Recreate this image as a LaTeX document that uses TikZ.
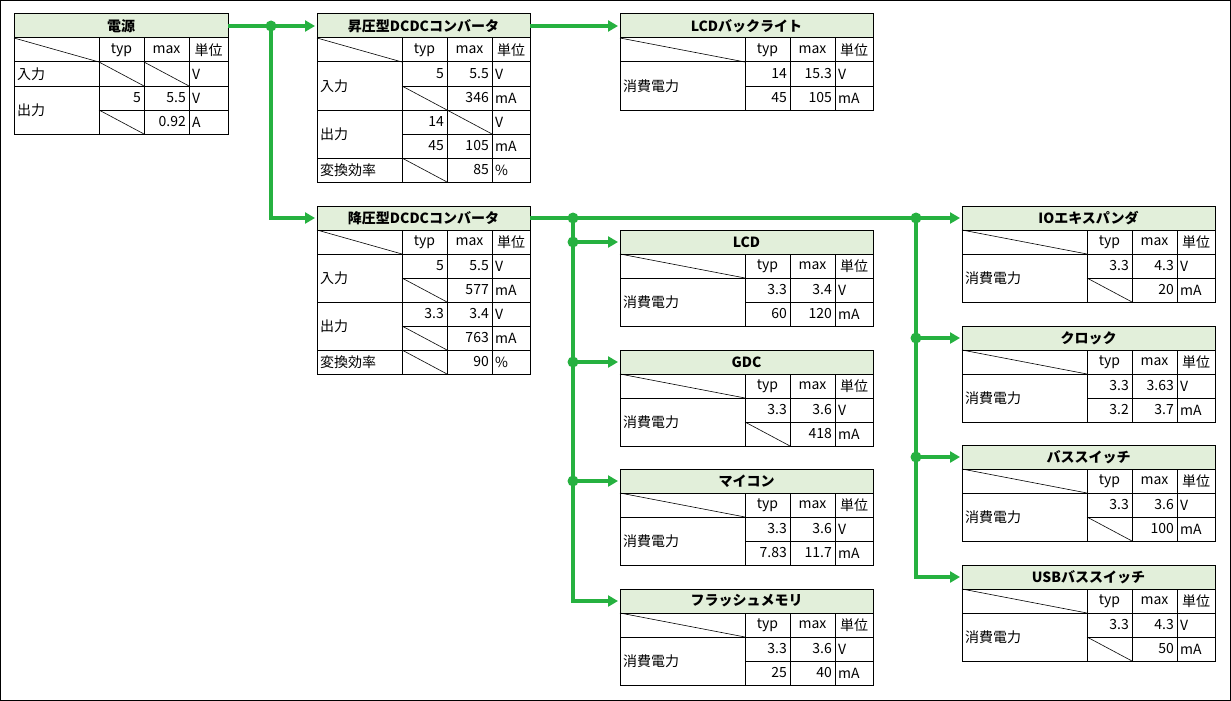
\documentclass[tikz,border=0pt]{standalone}
\usepackage{fontspec}
\setmainfont{Noto Sans CJK JP}
\usetikzlibrary{arrows.meta}

\definecolor{headgreen}{RGB}{226,239,218}
\definecolor{wiregreen}{RGB}{38,177,64}

\newcommand{\cellfont}{\fontsize{14}{16}\selectfont}

% load table: name, x, y, title, typ V, max V, typ mA, max mA
\newcommand{\loadtable}[8]{%
\node[tabtitle, minimum width=253pt] (#1) at (#2,#3) {#4};
\begin{scope}[shift={(#1.south west)}]
\draw[rule] (0,0) rectangle (253,72);
\draw[rule] (0,24) -- (253,24) (125,48) -- (253,48);
\draw[rule] (125,0) -- (125,72) (170,0) -- (170,72) (215,0) -- (215,72);
\draw[diag] (0,0) -- (125,24);
\node[hdr] (#1-typ) at (147.5,12) {typ};
\node[hdr] (#1-max) at (192.5,12) {max};
\node[hdr] (#1-unit) at (234,12) {単位};
\node[lbl] (#1-item) at (0,48) {消費電力};
\node[num] (#1-tv) at (170,36) {#5};
\node[num] (#1-mv) at (215,36) {#6};
\node[unitcell] (#1-uv) at (215,36) {V};
\node[num] (#1-ta) at (170,60) {#7};
\node[num] (#1-ma) at (215,60) {#8};
\node[unitcell] (#1-ua) at (215,60) {mA};
\if\relax\detokenize{#7}\relax \draw[diag] (125,48) -- (170,72); \fi
\end{scope}
}

\begin{document}
\begin{tikzpicture}[
x=1pt, y=-1pt,
tabtitle/.style={draw, fill=headgreen, line width=1pt, anchor=north west,
minimum height=24pt, inner sep=0pt, outer sep=0pt, font=\cellfont\bfseries},
rule/.style={line width=1pt},
diag/.style={line width=0.6pt},
hdr/.style={anchor=center, inner sep=0pt, font=\cellfont},
lbl/.style={anchor=west, inner sep=3pt, font=\cellfont},
num/.style={anchor=east, inner sep=3pt, font=\cellfont},
unitcell/.style={anchor=west, inner sep=3pt, font=\cellfont},
wire/.style={draw=wiregreen, line width=3.5pt},
arrow/.style={wire, -{Triangle[length=10pt, width=11pt]}, shorten >=2pt},
dot/.style={circle, fill=wiregreen, inner sep=0pt, minimum size=11pt}
]

\useasboundingbox (0,0) rectangle (1231,701);
\draw[line width=1pt] (0.5,0.5) rectangle (1230.5,700.5);

% =====================================================
% Power supply
% =====================================================

\node[tabtitle, minimum width=214pt] (psu) at (14,14) {電源};
\begin{scope}[shift={(psu.south west)}]
\draw[rule] (0,0) rectangle (214,96);
\draw[rule] (0,24) -- (214,24) (0,48) -- (214,48) (85,72) -- (214,72);
\draw[rule] (85,0) -- (85,96) (130,0) -- (130,96) (175,0) -- (175,96);
\draw[diag] (0,0) -- (85,24) (85,24) -- (130,48) (130,24) -- (175,48) (85,72) -- (130,96);
\node[hdr] (psu-typ) at (107.5,12) {typ};
\node[hdr] (psu-max) at (152.5,12) {max};
\node[hdr] (psu-unit) at (194.5,12) {単位};
\node[lbl] (psu-in) at (0,36) {入力};
\node[unitcell] (psu-in-u) at (175,36) {V};
\node[lbl] (psu-out) at (0,72) {出力};
\node[num] (psu-out-tv) at (130,60) {5};
\node[num] (psu-out-mv) at (175,60) {5.5};
\node[unitcell] (psu-out-uv) at (175,60) {V};
\node[num] (psu-out-ma) at (175,84) {0.92};
\node[unitcell] (psu-out-ua) at (175,84) {A};
\end{scope}

% =====================================================
% Boost converter
% =====================================================

\node[tabtitle, minimum width=213pt] (boost) at (317,14) {昇圧型DCDCコンバータ};
\begin{scope}[shift={(boost.south west)}]
\draw[rule] (0,0) rectangle (213,144);
\draw[rule] (0,24) -- (213,24) (85,48) -- (213,48) (0,72) -- (213,72)
  (85,96) -- (213,96) (0,120) -- (213,120);
\draw[rule] (85,0) -- (85,144) (130,0) -- (130,144) (175,0) -- (175,144);
\draw[diag] (0,0) -- (85,24) (85,48) -- (130,72) (130,72) -- (175,96) (85,120) -- (130,144);
\node[hdr] (boost-typ) at (107.5,12) {typ};
\node[hdr] (boost-max) at (152.5,12) {max};
\node[hdr] (boost-unit) at (194,12) {単位};
\node[lbl] (boost-in) at (0,48) {入力};
\node[num] (boost-in-tv) at (130,36) {5};
\node[num] (boost-in-mv) at (175,36) {5.5};
\node[unitcell] (boost-in-uv) at (175,36) {V};
\node[num] (boost-in-ma) at (175,60) {346};
\node[unitcell] (boost-in-ua) at (175,60) {mA};
\node[lbl] (boost-out) at (0,96) {出力};
\node[num] (boost-out-tv) at (130,84) {14};
\node[unitcell] (boost-out-uv) at (175,84) {V};
\node[num] (boost-out-ta) at (130,108) {45};
\node[num] (boost-out-ma) at (175,108) {105};
\node[unitcell] (boost-out-ua) at (175,108) {mA};
\node[lbl] (boost-eff) at (0,132) {変換効率};
\node[num] (boost-eff-m) at (175,132) {85};
\node[unitcell] (boost-eff-u) at (175,132) {\%};
\end{scope}

% =====================================================
% Buck converter
% =====================================================

\node[tabtitle, minimum width=213pt] (buck) at (317,206) {降圧型DCDCコンバータ};
\begin{scope}[shift={(buck.south west)}]
\draw[rule] (0,0) rectangle (213,144);
\draw[rule] (0,24) -- (213,24) (85,48) -- (213,48) (0,72) -- (213,72)
  (85,96) -- (213,96) (0,120) -- (213,120);
\draw[rule] (85,0) -- (85,144) (130,0) -- (130,144) (175,0) -- (175,144);
\draw[diag] (0,0) -- (85,24) (85,48) -- (130,72) (85,96) -- (130,120) (85,120) -- (130,144);
\node[hdr] (buck-typ) at (107.5,12) {typ};
\node[hdr] (buck-max) at (152.5,12) {max};
\node[hdr] (buck-unit) at (194,12) {単位};
\node[lbl] (buck-in) at (0,48) {入力};
\node[num] (buck-in-tv) at (130,36) {5};
\node[num] (buck-in-mv) at (175,36) {5.5};
\node[unitcell] (buck-in-uv) at (175,36) {V};
\node[num] (buck-in-ma) at (175,60) {577};
\node[unitcell] (buck-in-ua) at (175,60) {mA};
\node[lbl] (buck-out) at (0,96) {出力};
\node[num] (buck-out-tv) at (130,84) {3.3};
\node[num] (buck-out-mv) at (175,84) {3.4};
\node[unitcell] (buck-out-uv) at (175,84) {V};
\node[num] (buck-out-ma) at (175,108) {763};
\node[unitcell] (buck-out-ua) at (175,108) {mA};
\node[lbl] (buck-eff) at (0,132) {変換効率};
\node[num] (buck-eff-m) at (175,132) {90};
\node[unitcell] (buck-eff-u) at (175,132) {\%};
\end{scope}

% =====================================================
% Loads
% =====================================================

\loadtable{backlight}{620}{14}{LCDバックライト}{14}{15.3}{45}{105}
\loadtable{lcd}{620}{230}{LCD}{3.3}{3.4}{60}{120}
\loadtable{gdc}{620}{350}{GDC}{3.3}{3.6}{}{418}
\loadtable{mcu}{620}{469}{マイコン}{3.3}{3.6}{7.83}{11.7}
\loadtable{flash}{620}{589}{フラッシュメモリ}{3.3}{3.6}{25}{40}
\loadtable{ioexp}{962}{206}{IOエキスパンダ}{3.3}{4.3}{}{20}
\loadtable{clock}{962}{326}{クロック}{3.3}{3.63}{3.2}{3.7}
\loadtable{busw}{962}{445}{バススイッチ}{3.3}{3.6}{}{100}
\loadtable{usbsw}{962}{565}{USBバススイッチ}{3.3}{4.3}{}{50}

% =====================================================
% Wires
% =====================================================

\coordinate (j1) at ([xshift=43pt]psu.east);
\coordinate (j2) at ([xshift=43pt]buck.east);
\coordinate (j3) at ([xshift=386pt]buck.east);

\draw[arrow] (psu.east) -- (boost.west);
\draw[arrow] (j1) |- (buck.west);
\draw[arrow] (boost.east) -- (backlight.west);
\draw[arrow] (buck.east) -- (ioexp.west);

\draw[arrow] (j2) |- (flash.west);
\draw[arrow] (lcd.west -| j2) -- (lcd.west);
\draw[arrow] (gdc.west -| j2) -- (gdc.west);
\draw[arrow] (mcu.west -| j2) -- (mcu.west);

\draw[arrow] (j3) |- (usbsw.west);
\draw[arrow] (clock.west -| j3) -- (clock.west);
\draw[arrow] (busw.west -| j3) -- (busw.west);

\node[dot] (d1) at (j1) {};
\node[dot] (d2) at (j2) {};
\node[dot] (d3) at (j3) {};
\node[dot] (d4) at (lcd.west -| j2) {};
\node[dot] (d5) at (gdc.west -| j2) {};
\node[dot] (d6) at (mcu.west -| j2) {};
\node[dot] (d7) at (clock.west -| j3) {};
\node[dot] (d8) at (busw.west -| j3) {};

\end{tikzpicture}
\end{document}
